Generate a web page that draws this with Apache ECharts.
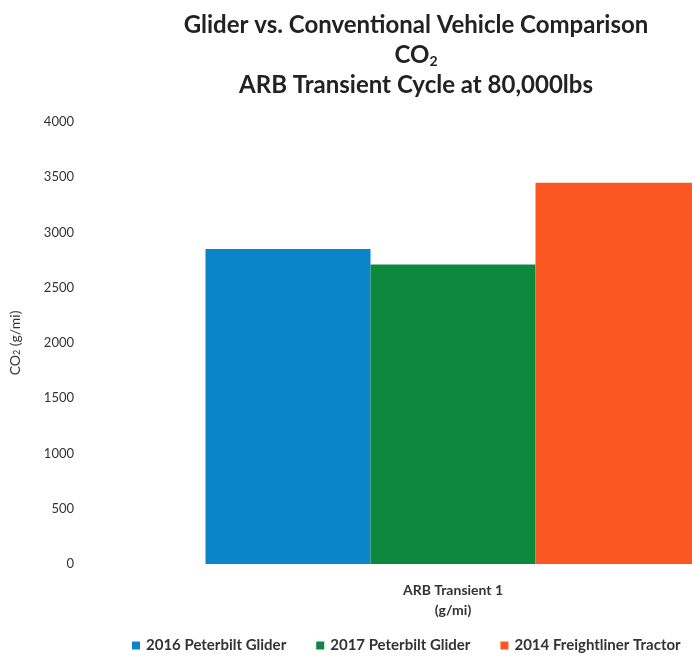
<!DOCTYPE html>
<html>
<head>
<meta charset="utf-8">
<script src="https://cdn.jsdelivr.net/npm/echarts@6/dist/echarts.min.js"></script>
<style>
html,body{margin:0;padding:0;background:#fff;overflow:hidden;width:692px;height:660px;}
#chart{width:824px;height:660px;}
</style>
</head>
<body>
<div id="chart"></div>
<script>
const categories = ['ARB Transient 1\n(g/mi)'];
const seriesNames = ['2016 Peterbilt Glider', '2017 Peterbilt Glider', '2014 Freightliner Tractor'];
const glider2016 = [2850];
const glider2017 = [2710];
const tractor2014 = [3450];
const yTicks = { min: 0, max: 4000, interval: 500 };
const colors = ['#0b84c9', '#0d893e', '#fb5722'];

const FONT = 'Lato, "Open Sans", sans-serif';
const chart = echarts.init(document.getElementById('chart'), null, { renderer: 'canvas' });
const seriesValues = [glider2016, glider2017, tractor2014];

chart.setOption({
  backgroundColor: '#ffffff',
  animation: false,
  title: {
    text: 'Glider vs. Conventional Vehicle Comparison\nCO{sub|2}\nARB Transient Cycle at 80,000lbs',
    left: 416,
    top: 10,
    padding: 0,
    textAlign: 'center',
    textStyle: {
      fontFamily: FONT,
      fontSize: 24,
      fontWeight: 'bold',
      color: '#222',
      lineHeight: 30,
      rich: {
        sub: { fontFamily: FONT, fontSize: 14, fontWeight: 'bold', color: '#222', verticalAlign: 'bottom', lineHeight: 16, padding: [0, 0, 2, 0] }
      }
    }
  },
  legend: {
    data: seriesNames,
    left: 132,
    top: 638,
    padding: 0,
    icon: 'rect',
    itemWidth: 8,
    itemHeight: 8,
    itemGap: 30,
    textStyle: { fontFamily: FONT, fontSize: 15, fontWeight: 'bold', color: '#333', padding: [0, 0, 0, 1] }
  },
  grid: { left: 80, right: 0, top: 122, bottom: 96 },
  xAxis: {
    type: 'category',
    data: categories,
    axisLine: { show: false },
    axisTick: { show: false },
    splitLine: { show: false },
    axisLabel: { fontFamily: FONT, fontSize: 14, fontWeight: 'bold', color: '#333', lineHeight: 20, margin: 16 }
  },
  yAxis: {
    type: 'value',
    min: yTicks.min,
    max: yTicks.max,
    interval: yTicks.interval,
    name: 'CO{sub|2} (g/mi)',
    nameLocation: 'middle',
    nameGap: 60,
    nameTextStyle: {
      fontFamily: FONT, fontSize: 14, color: '#333',
      rich: { sub: { fontFamily: FONT, fontSize: 9, color: '#333', verticalAlign: 'bottom', lineHeight: 10 } }
    },
    axisLine: { show: false },
    axisTick: { show: false },
    splitLine: { show: false },
    axisLabel: { fontFamily: FONT, fontSize: 13, color: '#333', margin: 8, formatter: (v) => String(v) }
  },
  series: seriesNames.map((name, i) => ({
    name: name,
    type: 'bar',
    data: seriesValues[i],
    barWidth: 165,
    barGap: '0%',
    itemStyle: { color: colors[i] }
  }))
});
</script>
</body>
</html>
